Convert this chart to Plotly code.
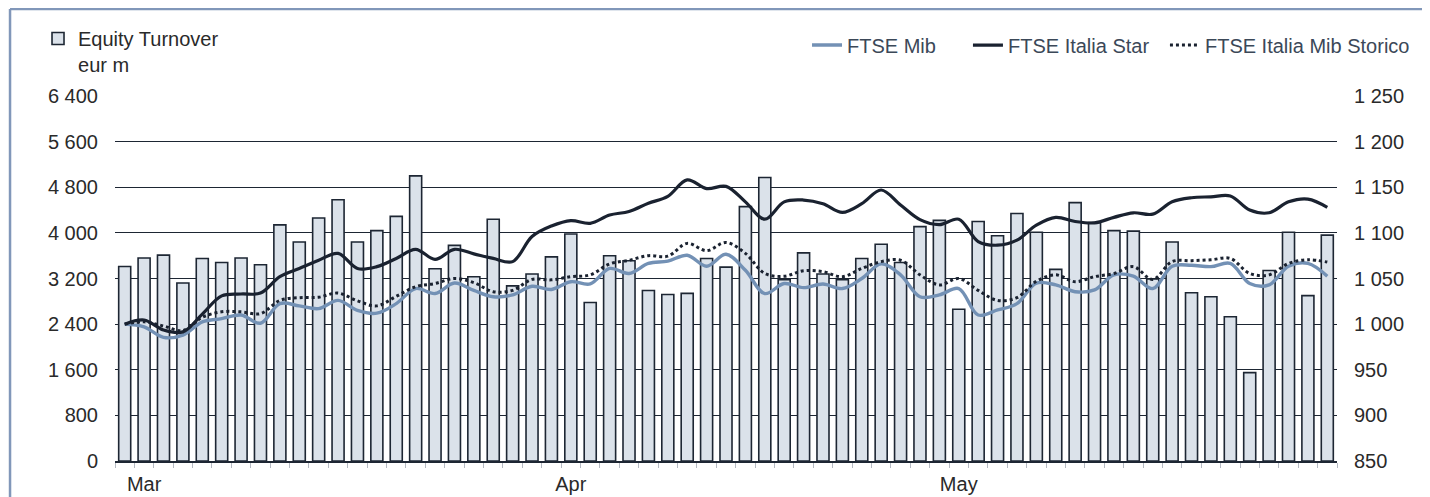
import plotly.graph_objects as go

# ---- data ----
turnover = [3410, 3560, 3610, 3120, 3550, 3480, 3560, 3440, 4140, 3840,
            4260, 4580, 3840, 4040, 4290, 5000, 3370, 3780, 3230, 4240,
            3070, 3280, 3580, 3980, 2780, 3600, 3510, 2990, 2920, 2940,
            3550, 3400, 4460, 4970, 3180, 3650, 3280, 3180, 3550, 3800,
            3480, 4110, 4220, 2660, 4200, 3950, 4340, 4010, 3360, 4530,
            4180, 4040, 4030, 3190, 3840, 2950, 2880, 2530, 1550, 3340,
            4010, 2900, 3960]

ftse_mib = [1000, 997, 985.5, 988, 1002.5, 1006, 1010, 1001, 1022.5, 1020,
            1017, 1026, 1015, 1012, 1022.5, 1039, 1033.5, 1045, 1037, 1030,
            1032, 1041.5, 1038, 1046.5, 1044, 1061, 1055.5, 1066.5, 1069, 1075.5,
            1063.5, 1076.5, 1059, 1033.5, 1044.5, 1040, 1044, 1039, 1050, 1066,
            1054, 1030, 1032, 1039, 1010, 1015.5, 1022.5, 1045, 1043, 1035.5,
            1037.5, 1054, 1052.5, 1039, 1063.5, 1064.5, 1063, 1066.5, 1044.5, 1043,
            1063.5, 1066.5, 1052.5]

ftse_star = [1000, 1004.5, 993.5, 991.5, 1011, 1031, 1033, 1034, 1052, 1061,
             1070, 1077.5, 1061, 1063, 1072, 1082, 1071, 1082, 1077, 1072,
             1068.5, 1096, 1107.5, 1113.5, 1110.5, 1119.5, 1123.5, 1132.5, 1140, 1158,
             1148.5, 1151, 1134, 1115, 1134, 1136, 1132, 1122.5, 1132, 1147,
             1130.5, 1114.5, 1109, 1115, 1090.5, 1086.5, 1092, 1108.5, 1117, 1112.5,
             1111, 1117, 1122, 1120.5, 1134, 1138.5, 1139.5, 1140.5, 1125, 1122,
             1134, 1137, 1128]

ftse_mib_storico = [1000, 1002.5, 998, 993, 1007.5, 1013.5, 1013.5, 1011.5, 1026, 1029,
                    1029.5, 1034, 1025.5, 1020, 1030.5, 1041, 1044.5, 1050, 1045.5, 1035.5,
                    1037, 1049, 1048.5, 1052, 1054, 1066, 1070, 1075, 1074.5, 1088.5,
                    1080.5, 1089.5, 1077.5, 1055.5, 1052.5, 1058.5, 1057.5, 1052, 1061, 1068.5,
                    1070, 1054, 1043, 1050, 1037, 1026, 1029, 1047, 1054, 1046.5,
                    1052, 1055.5, 1063, 1049, 1068.5, 1069.5, 1070.5, 1072, 1055.5, 1054,
                    1066.5, 1070.5, 1068]

month_labels = ["Mar", "Apr", "May"]
month_label_day = [1, 23, 43]   # trading-day index under which each month name sits

days = list(range(len(turnover)))

FONT = "Liberation Sans, Arial, sans-serif"
DARK = "#1d2633"
LEG_COLOR = "#3b4858"

fig = go.Figure()
fig.add_trace(go.Bar(
    x=days, y=turnover, name="Equity Turnover<br>eur m",
    marker=dict(color="#dbe2ea", line=dict(color=DARK, width=1.6)),
    legend="legend", yaxis="y"))
fig.add_trace(go.Scatter(
    x=days, y=ftse_mib, name="FTSE Mib", mode="lines", yaxis="y2", legend="legend2",
    line=dict(color="#7391b5", width=3.4, shape="spline", smoothing=1)))
fig.add_trace(go.Scatter(
    x=days, y=ftse_star, name="FTSE Italia Star", mode="lines", yaxis="y2", legend="legend3",
    line=dict(color="#1a2230", width=3.2, shape="spline", smoothing=1)))
fig.add_trace(go.Scatter(
    x=days, y=ftse_mib_storico, name="FTSE Italia Mib Storico", mode="lines", yaxis="y2",
    legend="legend4",
    line=dict(color="#1a2230", width=3, dash="dot", shape="spline", smoothing=1)))

# frame (only top and left edges fall inside the picture)
fx, fy = -0.0859, 1.2385
fig.add_shape(type="line", xref="paper", yref="paper", x0=fx, x1=1.2, y0=fy, y1=fy,
              line=dict(color="#8197b9", width=2.5))
fig.add_shape(type="line", xref="paper", yref="paper", x0=fx, x1=fx, y0=fy, y1=-0.2,
              line=dict(color="#8197b9", width=2.5))

LINE_LEG_Y = 1.193
leg_common = dict(orientation="h", yanchor="top", xanchor="left",
                  bgcolor="rgba(0,0,0,0)", font=dict(size=20, color=LEG_COLOR))

fig.update_layout(
    width=1422, height=489,
    margin=dict(l=107, r=93, t=88, b=36, autoexpand=False),
    paper_bgcolor="white", plot_bgcolor="white",
    font=dict(family=FONT, size=20, color="#2a2a2a"),
    separators=". ",
    bargap=0.38,
    showlegend=True,
    xaxis=dict(range=[-0.5, len(turnover) - 0.5], tickmode="array",
               tickvals=month_label_day, ticktext=month_labels,
               ticks="", showgrid=False, zeroline=False,
               showline=True, linecolor=DARK, linewidth=1.5,
               ticklabelstandoff=4,
               minor=dict(tick0=-0.5, dtick=1, ticks="outside", ticklen=5,
                          tickwidth=1, tickcolor="#b4b9c2", showgrid=False)),
    yaxis=dict(range=[0, 6400], tick0=0, dtick=800, tickformat=",d",
               showgrid=True, gridcolor=DARK, gridwidth=1.3, zeroline=False,
               ticks="", ticklabelstandoff=16),
    yaxis2=dict(range=[850, 1250], tick0=850, dtick=50, tickformat=",d",
                overlaying="y", side="right", showgrid=False, zeroline=False,
                ticks="", ticklabelstandoff=16),
    legend=dict(x=-0.063, xanchor="left", y=1.211, yanchor="top", valign="top",
                font=dict(size=20, color="#2a2a2a"), bgcolor="rgba(0,0,0,0)"),
    legend2=dict(x=0.5663, y=LINE_LEG_Y, **leg_common),
    legend3=dict(x=0.6980, y=LINE_LEG_Y, **leg_common),
    legend4=dict(x=0.8592, y=LINE_LEG_Y, **leg_common),
)

fig.write_html("out.html")
